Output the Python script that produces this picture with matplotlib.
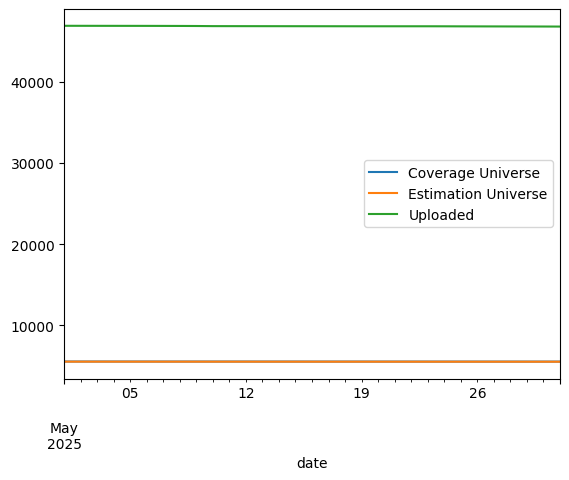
import matplotlib
matplotlib.use("Agg")
import matplotlib.pyplot as plt
import pandas as pd

dates = pd.date_range("2025-05-01", "2025-05-31", freq="D")
coverage_universe = [5535, 5535, 5535, 5534, 5534, 5534, 5533, 5533, 5533, 5532,
                     5532, 5532, 5531, 5531, 5531, 5530, 5530, 5530, 5530, 5529,
                     5529, 5529, 5528, 5528, 5528, 5527, 5527, 5527, 5526, 5526, 5526]
estimation_universe = [5520, 5520, 5520, 5519, 5519, 5519, 5518, 5518, 5518, 5517,
                       5517, 5517, 5516, 5516, 5516, 5515, 5515, 5515, 5515, 5514,
                       5514, 5514, 5513, 5513, 5513, 5512, 5512, 5512, 5511, 5511, 5511]
uploaded = [46880, 46878, 46876, 46874, 46872, 46870, 46866, 46862, 46855, 46840,
            46838, 46836, 46834, 46832, 46830, 46828, 46826, 46824, 46822, 46822,
            46822, 46822, 46822, 46818, 46812, 46808, 46804, 46800, 46796, 46792, 46786]

df = pd.DataFrame({
    "Coverage Universe": coverage_universe,
    "Estimation Universe": estimation_universe,
    "Uploaded": uploaded,
}, index=pd.Index(dates, name="date"))

fig, ax = plt.subplots(figsize=(5.69, 4.81), dpi=100)
df.plot(ax=ax)
ax.legend(loc="center right")
fig.subplots_adjust(left=0.1125, right=0.9842, top=0.9792, bottom=0.2110)
fig.savefig("out.png", dpi=100)
